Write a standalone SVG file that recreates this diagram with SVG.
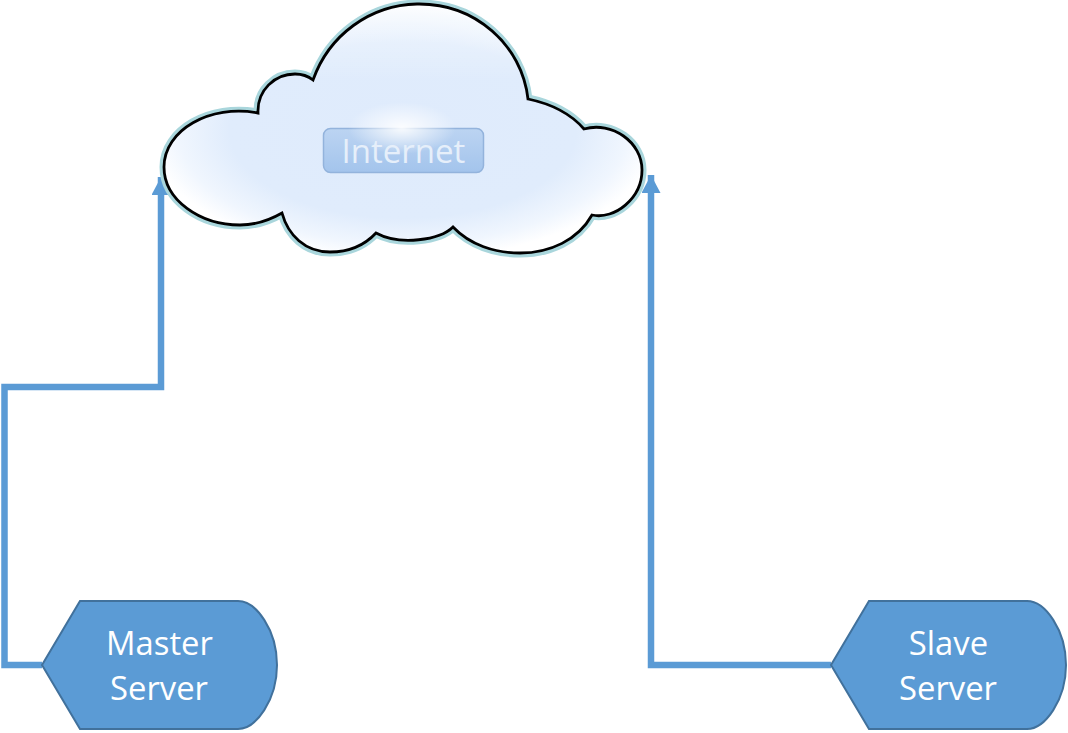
<svg xmlns="http://www.w3.org/2000/svg" width="1068" height="733" viewBox="0 0 1068 733">
<style>
.srv{fill:#5b9bd5;stroke:#41719c;stroke-width:2}
.lbl{font-family:"Open Sans","Noto Sans",sans-serif;font-size:32.800px;fill:#fff;text-anchor:middle}
.wire{fill:none;stroke:#5b9bd5;stroke-width:6.500;marker-end:url(#arrow)}
</style>
<defs>
<marker id="arrow" markerUnits="userSpaceOnUse" markerWidth="20" markerHeight="20" refX="18" refY="9.500" orient="auto"><path d="M0 0L18 9.500L0 19Z" fill="#5b9bd5"/></marker>
<radialGradient id="cloudFill" gradientUnits="userSpaceOnUse" cx="403" cy="130" r="1" gradientTransform="translate(403 130) scale(255 130) translate(-403 -130)">
<stop offset="0" stop-color="#dfebfc"/><stop offset="0.68" stop-color="#e0ecfc"/><stop offset="0.88" stop-color="#f0f6fe"/><stop offset="1" stop-color="#fff"/></radialGradient>
<linearGradient id="topLight" gradientUnits="userSpaceOnUse" x1="0" y1="4" x2="0" y2="80"><stop offset="0" stop-color="#fff" stop-opacity=".5"/><stop offset="1" stop-color="#fff" stop-opacity="0"/></linearGradient>
<radialGradient id="glow"><stop offset="0" stop-color="#fff" stop-opacity=".9"/><stop offset="1" stop-color="#fff" stop-opacity="0"/></radialGradient>
<linearGradient id="btn" x1="0" y1="0" x2="0" y2="1"><stop offset="0" stop-color="#bcd4f2"/><stop offset="1" stop-color="#a3c4ec"/></linearGradient>
<path id="cloudShape" d="M313 80C329 35 370 5 417 4C475 3 522 45 528 99C552 104 571 114 584 129C612 121 642 142 642 170C642 198 615 220 592 215C578 240 550 253 520 253C495 253 470 245 453 227C440 240 400 246 376 233C362 248 345 252 330 252C305 252 288 235 282 213C268 221 255 225 240 225C200 225 164 200 164 167C164 130 210 104 258 113C257 90 275 74 295 74C302 74 308 76 313 80Z"/>
</defs>
<g id="connectors">
<path class="wire" d="M42 665H4.500V387H161V177"/>
<path class="wire" d="M831 665H651V175"/>
</g>
<g id="cloud">
<use href="#cloudShape" fill="none" stroke="#a9d6dc" stroke-width="9" stroke-linejoin="round"/>
<use href="#cloudShape" fill="url(#cloudFill)"/>
<use href="#cloudShape" fill="url(#topLight)"/>
<use href="#cloudShape" fill="none" stroke="#000" stroke-width="2.800" stroke-linejoin="miter"/>
<rect x="323.500" y="128.500" width="160" height="44" rx="7" fill="url(#btn)" stroke="#93b3dc" stroke-width="1.500"/>
<ellipse cx="402" cy="128" rx="54" ry="26" fill="url(#glow)"/>
<text x="403.500" y="163" font-family="'Open Sans','Noto Sans',sans-serif" font-size="33" fill="#e6effa" text-anchor="middle">Internet</text>
</g>
<g id="master">
<path class="srv" d="M42 665L80 601H238C256 601 277 630 277 665C277 700 256 729 238 729H80Z"/>
<text class="lbl" x="159.500" y="655">Master</text>
<text class="lbl" x="159" y="700">Server</text>
</g>
<g id="slave">
<path class="srv" d="M831 665L869 601H1027C1045 601 1066 630 1066 665C1066 700 1045 729 1027 729H869Z"/>
<text class="lbl" x="948.500" y="655">Slave</text>
<text class="lbl" x="948" y="700">Server</text>
</g>
</svg>
